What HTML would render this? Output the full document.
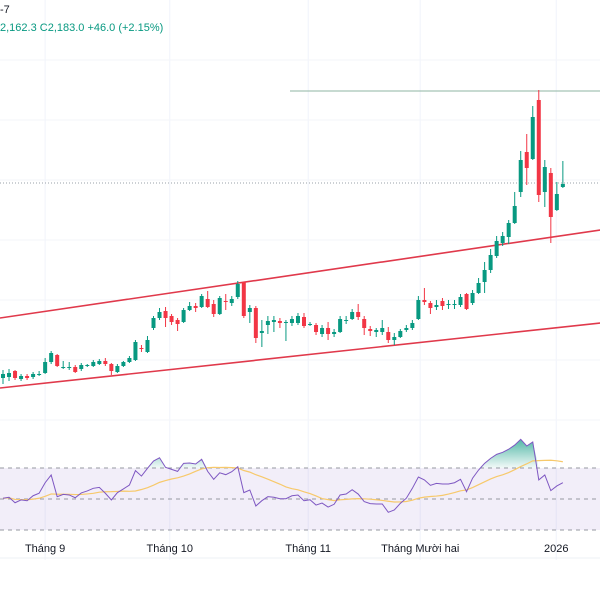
<!DOCTYPE html>
<html><head><meta charset="utf-8"><style>
html,body{margin:0;padding:0;background:#fff;}
body{width:600px;height:600px;overflow:hidden;font-family:"Liberation Sans","DejaVu Sans",sans-serif;}
</style></head><body>
<svg id="chart" width="600" height="600" viewBox="0 0 600 600" xmlns="http://www.w3.org/2000/svg">
<rect x="0" y="0" width="600" height="600" fill="#fff"/>
<g id="grid"></g>
<g id="rsiPane"></g>
<g id="overlays"></g>
<g id="candles"></g>
<g id="axis"></g>
<text x="0" y="13" font-size="11" fill="#131722">-7</text>
<text x="0" y="31" font-size="11" fill="#089981">2,162.3  C2,183.0  +46.0 (+2.15%)</text>
</svg>
<script>
const opens=[1793,1795,1807,1791,1797,1795,1799,1803,1825,1839,1813,1813,1815,1811,1817,1817,1821,1827,1821,1805,1817,1825,1829,1853,1845,1893,1913,1927,1917,1909,1905,1929,1937,1935,1951,1941,1921,1947,1943,1955,1985,1925,1933,1883,1899,1905,1907,1903,1903,1903,1915,1901,1899,1881,1893,1881,1885,1907,1911,1925,1911,1891,1885,1885,1885,1869,1875,1889,1893,1911,1949,1943,1935,1947,1939,1939,1939,1961,1943,1963,1985,2009,2037,2063,2075,2103,2165,2245,2231,2349,2165,2203,2129,2175];
const closes=[1801,1803,1793,1797,1793,1801,1801,1825,1843,1817,1815,1815,1805,1819,1819,1825,1827,1821,1807,1817,1825,1833,1865,1851,1869,1913,1925,1913,1905,1901,1929,1937,1933,1957,1935,1921,1953,1945,1951,1981,1917,1933,1873,1887,1907,1909,1903,1905,1911,1917,1897,1901,1885,1893,1881,1885,1911,1909,1925,1915,1893,1887,1889,1893,1869,1875,1887,1893,1903,1949,1945,1933,1939,1937,1941,1941,1955,1931,1963,1983,2009,2039,2067,2077,2103,2137,2229,2213,2315,2159,2215,2115,2161,2181];
const highs=[1809,1811,1809,1801,1801,1805,1807,1833,1847,1841,1827,1825,1819,1823,1821,1829,1831,1833,1823,1821,1827,1837,1869,1859,1877,1917,1933,1935,1921,1913,1933,1945,1943,1961,1967,1949,1957,1961,1957,1987,1985,1939,1937,1909,1917,1917,1913,1909,1917,1923,1923,1905,1903,1899,1905,1891,1917,1917,1931,1941,1917,1897,1893,1909,1895,1883,1891,1899,1909,1957,1973,1947,1949,1953,1949,1949,1961,1963,1969,1993,2025,2051,2077,2085,2109,2165,2247,2281,2337,2369,2229,2213,2185,2227];
const lows=[1781,1787,1789,1787,1789,1791,1797,1801,1821,1815,1811,1809,1803,1807,1815,1815,1819,1817,1799,1803,1815,1823,1827,1845,1843,1889,1909,1895,1899,1887,1903,1927,1925,1933,1933,1915,1919,1929,1937,1951,1913,1903,1863,1855,1881,1885,1893,1867,1897,1899,1893,1897,1879,1875,1869,1875,1883,1901,1909,1909,1879,1877,1875,1879,1863,1859,1873,1885,1889,1909,1939,1921,1929,1929,1931,1931,1935,1929,1939,1961,1963,2003,2033,2057,2061,2101,2155,2179,2229,2145,2135,2063,2127,2173];
const rsi=[50.5,51.1,47.6,49.4,48.9,52.1,53.7,60.5,65.5,51.5,53.0,52.6,50.8,53.9,55.2,56.9,57.5,53.7,49.4,54.1,56.5,59.0,68.3,64.8,69.8,74.5,76.6,70.4,69.1,67.8,73.0,73.2,72.6,75.6,67.8,62.7,66.9,65.7,67.6,70.8,54.1,55.8,45.5,48.9,51.5,51.1,50.2,50.2,52.1,52.6,48.9,49.5,46.1,47.4,44.8,46.6,52.6,53.2,56.0,53.2,48.3,47.0,46.8,46.8,41.4,42.9,47.2,50.5,56.9,64.2,62.3,58.8,60.1,59.7,59.7,60.5,62.7,54.7,63.4,68.7,73.0,76.2,78.8,80.1,82.1,84.8,88.5,84.2,86.8,62.3,65.5,55.4,58.4,60.5];
const rsiLevels=[70,50,30];
const monthLabels=["Tháng 9","Tháng 10","Tháng 11","Tháng Mười hai","2026"];
const monthIdx=[7,27.7,50.7,69.3,91.9];
const lastClose=2183;
const resistance=2367;
const channelUpper=[[-0.5,1913],[99.2,2089]];
const channelLower=[[-0.5,1773],[99.2,1903]];
const rsiPeriod=14;

const NS="http://www.w3.org/2000/svg";
const xOf=i=>3+6.02*i;
const yOf=p=>183+(lastClose-p)/2;
const yR=v=>499-(v-50)*1.55;
function mk(tag,attrs,parent){const e=document.createElementNS(NS,tag);for(const k in attrs)e.setAttribute(k,attrs[k]);parent.appendChild(e);return e;}
const grid=document.getElementById('grid'),rp=document.getElementById('rsiPane'),ov=document.getElementById('overlays'),cg=document.getElementById('candles'),ax=document.getElementById('axis');

// grid
monthIdx.forEach((m,k)=>{const l=mk('line',{x1:xOf(m),x2:xOf(m),y1:0,y2:560,stroke:'#f0f3fa','stroke-width':1},grid);

});
[60,120,180,240,300,360,420].forEach(y=>{const l=mk('line',{x1:0,x2:600,y1:y,y2:y,stroke:'#f3f5fa','stroke-width':1},grid);

});
const sep=mk('line',{x1:0,x2:600,y1:558,y2:558,stroke:'#eef0f4','stroke-width':1},grid);



// RSI band
const band=mk('rect',{x:0,y:yR(70),width:600,height:yR(30)-yR(70),fill:'rgba(126,87,194,0.1)'},rp);


rsiLevels.forEach(v=>{const l=mk('line',{x1:0,x2:600,y1:yR(v),y2:yR(v),stroke:'#9598a1','stroke-width':1,'stroke-dasharray':'4 4'},rp);

});
// overbought fill
const defs=mk('defs',{},rp);
const gr=mk('linearGradient',{id:'obg',x1:0,y1:0,x2:0,y2:1},defs);
mk('stop',{offset:'0','stop-color':'#089981','stop-opacity':'0.7'},gr);
mk('stop',{offset:'1','stop-color':'#089981','stop-opacity':'0.05'},gr);
let dOb='';
for(let i=0;i<rsi.length-1;i++){
  const a=Math.max(rsi[i],70),b=Math.max(rsi[i+1],70);
  if(a>70||b>70){dOb+=`M${xOf(i)},${yR(70)}L${xOf(i)},${yR(a)}L${xOf(i+1)},${yR(b)}L${xOf(i+1)},${yR(70)}Z`;}
}
const ob=mk('path',{d:dOb,fill:'url(#obg)',stroke:'none'},rp);


// RSI MA
const ma=[];
for(let i=0;i<rsi.length;i++){const s=rsi.slice(Math.max(0,i-rsiPeriod+1),i+1);ma.push(s.reduce((a,b)=>a+b,0)/s.length);}
const maP=mk('polyline',{points:ma.map((v,i)=>xOf(i)+','+yR(v)).join(' '),fill:'none',stroke:'#f7c96b','stroke-width':1.2},rp);


const rl=mk('polyline',{points:rsi.map((v,i)=>xOf(i)+','+yR(v)).join(' '),fill:'none',stroke:'#7e57c2','stroke-width':1},rp);



// overlays
const res=mk('line',{x1:290,x2:600,y1:yOf(resistance),y2:yOf(resistance),stroke:'#8fb5a3','stroke-width':1},ov);


const cl=mk('line',{x1:0,x2:600,y1:yOf(lastClose),y2:yOf(lastClose),stroke:'#9aa0a8','stroke-width':1,'stroke-dasharray':'1 2'},ov);


[[channelUpper,'channel-upper-line'],[channelLower,'channel-lower-line']].forEach(([c,n])=>{
  const l=mk('line',{x1:xOf(c[0][0]),y1:yOf(c[0][1]),x2:xOf(c[1][0]),y2:yOf(c[1][1]),stroke:'#e0394b','stroke-width':1.6},ov);
  
  
});

// candles
for(let i=0;i<opens.length;i++){
  const up=closes[i]>=opens[i],col=up?'#089981':'#f23645',x=xOf(i);
  const g=mk('g',{},cg);
  
  
  mk('line',{x1:x,x2:x,y1:yOf(highs[i]),y2:yOf(lows[i]),stroke:col,'stroke-width':1},g);
  const top=yOf(Math.max(opens[i],closes[i])),bot=yOf(Math.min(opens[i],closes[i]));
  mk('rect',{x:x-2,y:top,width:4,height:Math.max(1,bot-top),fill:col},g);
}

// axis labels
monthLabels.forEach((t,k)=>{const e=mk('text',{x:xOf(monthIdx[k]),y:552,'font-size':11,fill:'#131722','text-anchor':'middle'},ax);e.textContent=t;

});
</script>
</body></html>
